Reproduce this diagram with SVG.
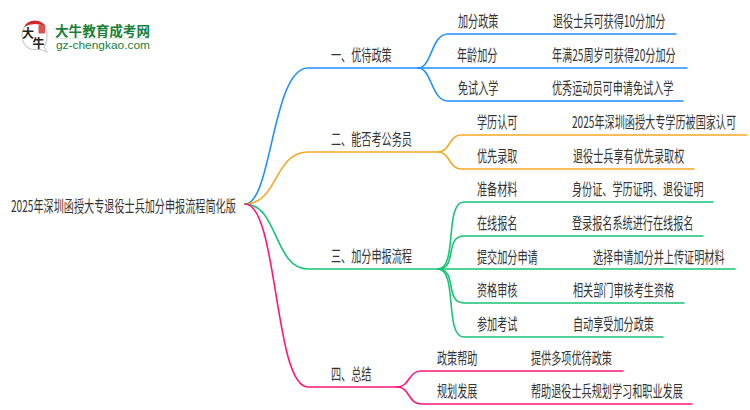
<svg xmlns="http://www.w3.org/2000/svg" width="750" height="410" viewBox="0 0 750 410">
<style>
text{font-family:"Noto Sans CJK SC","Liberation Sans",sans-serif;font-size:16px;fill:#333}
.c{fill:none;stroke-width:1.6;stroke-linecap:round}
.b{stroke:#1e8fff}.o{stroke:#f7a823}.g{stroke:#17c474}.p{stroke:#ff1677}
.lg{fill:#17803a;font-weight:700;font-size:13.5px}
.mk{font-size:12px;font-weight:700;fill:#222}
.url{font-family:"Liberation Sans",sans-serif;font-size:11px;fill:#17803a}
</style>
<rect width="750" height="410" fill="#fff"/>
<g id="logo">
<path d="M47 36A12.500 14 0 1 0 34 49.500L41 49.500L47 52L44 47Q47 43 47 36Z" fill="#fff" stroke="#ccc" stroke-width="1.200"/>
<path d="M24 27Q27 20.500 35 20.500Q43 21 46 27Q35 21 24 27Z" fill="#d2282e"/>
<rect x="38.500" y="25" width="6.500" height="8.500" rx="1" fill="#d9534f"/>
<text class="mk" transform="translate(22 38)">大</text>
<text class="mk" transform="translate(32.500 48)">牛</text>
<text class="lg" x="55" y="35.500" textLength="95" lengthAdjust="spacingAndGlyphs">大牛教育成考网</text>
<rect x="55" y="38" width="95" height="1" fill="#dcebe0"/>
<text class="url" x="56" y="49" textLength="94" lengthAdjust="spacingAndGlyphs">gz-chengkao.com</text>
</g>
<g id="connectors">
<path class="c b" d="M245 204C272 204 272 68 308 68H418"/>
<path class="c o" d="M245 204C278 204 274 152 308 152H438"/>
<path class="c g" d="M245 204C278 204 274 269 308 269H438"/>
<path class="c p" d="M245 204C278 204 274 387 308 387H397"/>
<path class="c b" d="M418 68C432 68 431 34 448 34H676"/>
<path class="c b" d="M418 68H687"/>
<path class="c b" d="M418 68C432 68 431 101 448 101H683"/>
<path class="c o" d="M438 152C450 152 449 135 461 135H747"/>
<path class="c o" d="M438 152C450 152 449 169 461 169H694"/>
<path class="c g" d="M438 269C458 269 444 202 464 202H713"/>
<path class="c g" d="M438 269C458 269 444 236 464 236H703"/>
<path class="c g" d="M438 269H735"/>
<path class="c g" d="M438 269C458 269 444 303 464 303H684"/>
<path class="c g" d="M438 269C458 269 444 337 464 337H663"/>
<path class="c p" d="M397 387C410 387 408 371 421 371H623"/>
<path class="c p" d="M397 387C410 387 408 404 421 404H692"/>
</g>
<g id="root"><text transform="translate(11 212) scale(.633 1)">2025年深圳函授大专退役士兵加分申报流程简化版</text></g>
<g id="n1"><text transform="translate(331 61) scale(.633 1)">一、优待政策</text></g>
<g id="n2"><text transform="translate(331 145) scale(.633 1)">二、能否考公务员</text></g>
<g id="n3"><text transform="translate(331 262) scale(.633 1)">三、加分申报流程</text></g>
<g id="n4"><text transform="translate(331 380) scale(.633 1)">四、总结</text></g>
<g id="n1a"><text transform="translate(458 27) scale(.633 1)">加分政策</text><text transform="translate(553 27) scale(.633 1)">退役士兵可获得10分加分</text></g>
<g id="n1b"><text transform="translate(457 61) scale(.633 1)">年龄加分</text><text transform="translate(552 61) scale(.633 1)">年满25周岁可获得20分加分</text></g>
<g id="n1c"><text transform="translate(458 94) scale(.633 1)">免试入学</text><text transform="translate(552 94) scale(.633 1)">优秀运动员可申请免试入学</text></g>
<g id="n2a"><text transform="translate(477 128) scale(.633 1)">学历认可</text><text transform="translate(572 128) scale(.633 1)">2025年深圳函授大专学历被国家认可</text></g>
<g id="n2b"><text transform="translate(477 162) scale(.633 1)">优先录取</text><text transform="translate(573 162) scale(.633 1)">退役士兵享有优先录取权</text></g>
<g id="n3a"><text transform="translate(477 195) scale(.633 1)">准备材料</text><text transform="translate(572 195) scale(.633 1)">身份证、学历证明、退役证明</text></g>
<g id="n3b"><text transform="translate(477 229) scale(.633 1)">在线报名</text><text transform="translate(572 229) scale(.633 1)">登录报名系统进行在线报名</text></g>
<g id="n3c"><text transform="translate(477 263) scale(.633 1)">提交加分申请</text><text transform="translate(593 263) scale(.633 1)">选择申请加分并上传证明材料</text></g>
<g id="n3d"><text transform="translate(477 296) scale(.633 1)">资格审核</text><text transform="translate(573 296) scale(.633 1)">相关部门审核考生资格</text></g>
<g id="n3e"><text transform="translate(477 330) scale(.633 1)">参加考试</text><text transform="translate(573 330) scale(.633 1)">自动享受加分政策</text></g>
<g id="n4a"><text transform="translate(437 364) scale(.633 1)">政策帮助</text><text transform="translate(531 364) scale(.633 1)">提供多项优待政策</text></g>
<g id="n4b"><text transform="translate(437 397) scale(.633 1)">规划发展</text><text transform="translate(531 397) scale(.633 1)">帮助退役士兵规划学习和职业发展</text></g>
</svg>
